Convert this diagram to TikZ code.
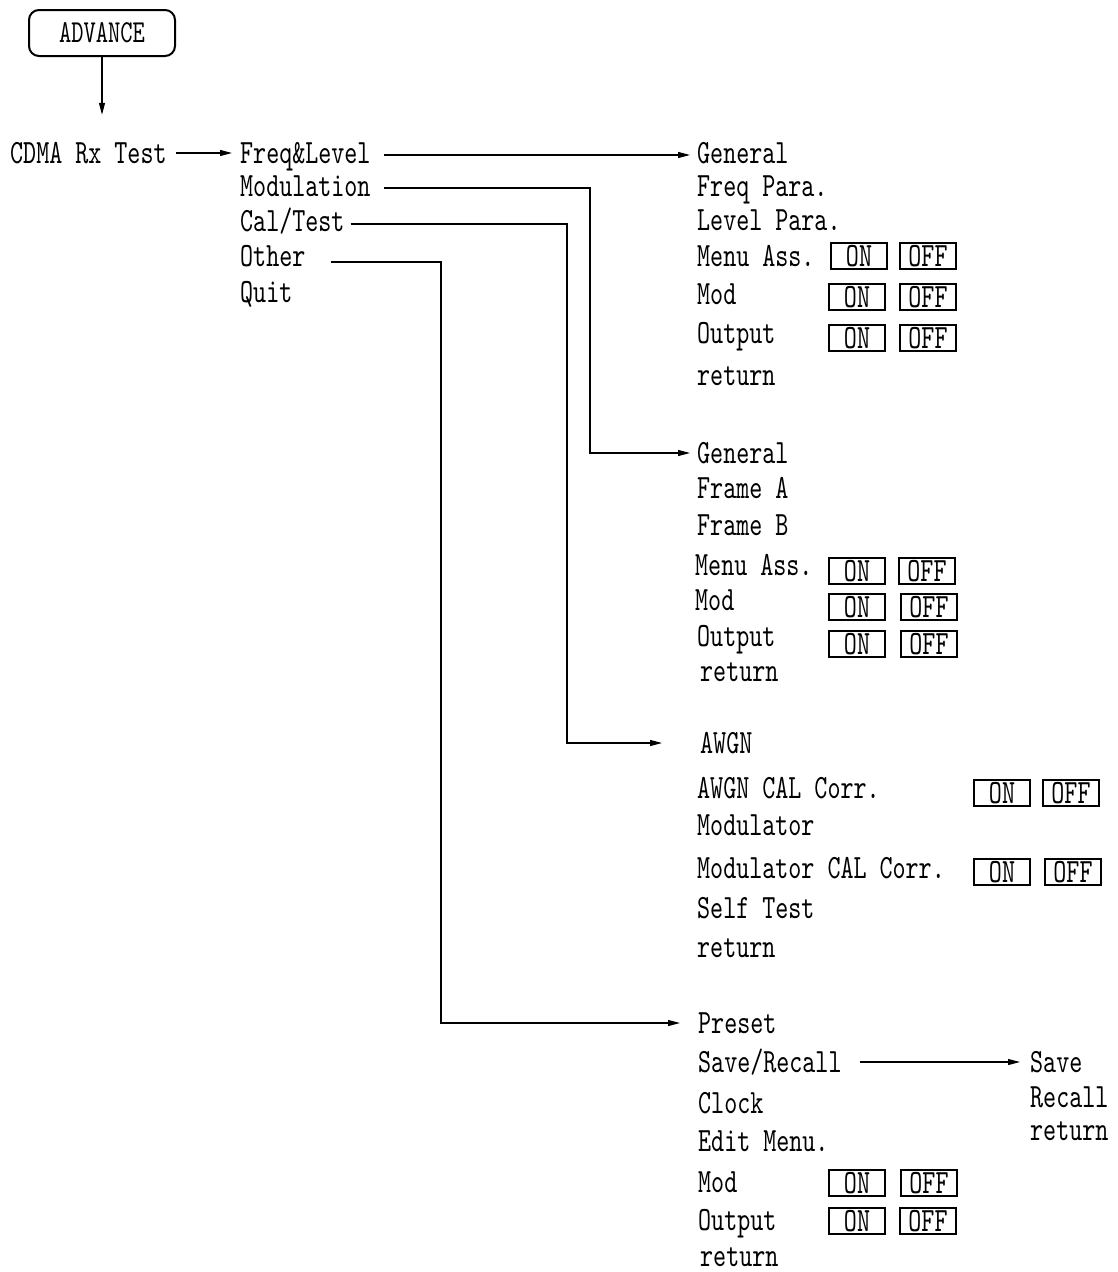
\documentclass[tikz,border=0pt]{standalone}
\usepackage{fontspec}
\newfontfamily\menufont{lmmono10-regular.otf}[FakeStretch=0.73]
\usetikzlibrary{positioning, arrows.meta, calc}

\begin{document}
\begin{tikzpicture}[x=1pt, y=-1pt,
        item/.style={anchor=west, inner sep=0pt, text height=20pt, text depth=0pt, font={\fontsize{34}{38}\menufont}},
        key/.style={rectangle, rounded corners=10pt, draw=black, line width=2pt, minimum width=146pt, minimum height=46pt, inner sep=0pt, text height=19pt, text depth=0pt, font={\fontsize{32}{36}\menufont}},
        onoff/.style={rectangle, draw=black, line width=1.2pt, minimum width=56pt, minimum height=26pt, inner sep=0pt, text height=20pt, text depth=0pt, font={\fontsize{34}{38}\menufont}},
        arrow/.style={line width=1.2pt, -{Triangle[length=12pt, width=6pt]}}
    ]
    \useasboundingbox (0,0) rectangle (1117,1272);

    % Top
    \node (Advance) [key] at (102,33) {ADVANCE};
    \node (Cdma) [item] at (10,153) {CDMA Rx Test};

    % Main menu
    \node (FreqLevel) [item] at (240,153) {Freq\&Level};
    \node (Modulation) [item] at (240,186) {Modulation};
    \node (CalTest) [item] at (240,221) {Cal/Test};
    \node (Other) [item] at (240,256) {Other};
    \node (Quit) [item] at (240,292) {Quit};

    % Freq&Level menu
    \node (FlGeneral) [item] at (697,153) {General};
    \node (FlFreq) [item] at (697,186) {Freq Para.};
    \node (FlLevel) [item] at (697,220) {Level Para.};
    \node (FlMenu) [item] at (697,256) {Menu Ass.};
    \node (FlMod) [item] at (697,294) {Mod};
    \node (FlOutput) [item] at (697,333) {Output};
    \node (FlReturn) [item] at (697,375) {return};
    \node (FlMenuOn) [onoff] at (859,256) {ON};
    \node (FlMenuOff) [onoff] at (928,256) {OFF};
    \node (FlModOn) [onoff] at (857,297) {ON};
    \node (FlModOff) [onoff] at (928,297) {OFF};
    \node (FlOutputOn) [onoff] at (857,338) {ON};
    \node (FlOutputOff) [onoff] at (928,338) {OFF};

    % Modulation menu
    \node (MoGeneral) [item] at (697,453) {General};
    \node (MoFrameA) [item] at (697,488) {Frame A};
    \node (MoFrameB) [item] at (697,525) {Frame B};
    \node (MoMenu) [item] at (695,565) {Menu Ass.};
    \node (MoMod) [item] at (695,600) {Mod};
    \node (MoOutput) [item] at (697,636) {Output};
    \node (MoReturn) [item] at (700,671) {return};
    \node (MoMenuOn) [onoff] at (857,571) {ON};
    \node (MoMenuOff) [onoff] at (927,571) {OFF};
    \node (MoModOn) [onoff] at (857,607) {ON};
    \node (MoModOff) [onoff] at (929,607) {OFF};
    \node (MoOutputOn) [onoff] at (857,644) {ON};
    \node (MoOutputOff) [onoff] at (929,644) {OFF};

    % Cal/Test menu
    \node (Awgn) [item] at (700,743) {AWGN};
    \node (AwgnCal) [item] at (697,788) {AWGN CAL Corr.};
    \node (Modulator) [item] at (697,825) {Modulator};
    \node (ModulatorCal) [item] at (697,868) {Modulator CAL Corr.};
    \node (SelfTest) [item] at (697,908) {Self Test};
    \node (CtReturn) [item] at (697,947) {return};
    \node (AwgnCalOn) [onoff] at (1002,793) {ON};
    \node (AwgnCalOff) [onoff] at (1071,793) {OFF};
    \node (ModulatorCalOn) [onoff] at (1002,872) {ON};
    \node (ModulatorCalOff) [onoff] at (1073,872) {OFF};

    % Other menu
    \node (Preset) [item] at (698,1023) {Preset};
    \node (SaveRecall) [item] at (698,1062) {Save/Recall};
    \node (Clock) [item] at (698,1103) {Clock};
    \node (EditMenu) [item] at (698,1141) {Edit Menu.};
    \node (OtMod) [item] at (698,1182) {Mod};
    \node (OtOutput) [item] at (698,1220) {Output};
    \node (OtReturn) [item] at (700,1256) {return};
    \node (OtModOn) [onoff] at (857,1183) {ON};
    \node (OtModOff) [onoff] at (929,1183) {OFF};
    \node (OtOutputOn) [onoff] at (857,1221) {ON};
    \node (OtOutputOff) [onoff] at (928,1221) {OFF};

    % Save/Recall menu
    \node (Save) [item] at (1030,1062) {Save};
    \node (Recall) [item] at (1030,1097) {Recall};
    \node (SrReturn) [item] at (1030,1130) {return};

    % Bends
    \coordinate (ModBend) at (590,0);
    \coordinate (CalBend) at (567,0);
    \coordinate (OtherBend) at (441,0);

    % Arrows
    \draw [arrow, shorten >=28pt] (Advance.south) -- (Advance.south |- Cdma.north);
    \draw [arrow] ([xshift=9pt]Cdma.east) -- ([xshift=-8pt]FreqLevel.west);
    \draw [arrow] ([xshift=13pt, yshift=-2pt]FreqLevel.east) -- ([xshift=-7pt, yshift=-2pt]FlGeneral.west);
    \draw [arrow] ([xshift=13pt, yshift=-2pt]Modulation.east) -| (ModBend |- MoGeneral) -- ([xshift=-7pt]MoGeneral.west);
    \draw [arrow] ([xshift=6pt, yshift=-3pt]CalTest.east) -| (CalBend |- Awgn) -- ([xshift=-38pt]Awgn.west);
    \draw [arrow] ([xshift=25pt, yshift=-6pt]Other.east) -| (OtherBend |- Preset) -- ([xshift=-18pt]Preset.west);
    \draw [arrow] ([xshift=18pt]SaveRecall.east) -- ([xshift=-10pt]Save.west);

\end{tikzpicture}
\end{document}
